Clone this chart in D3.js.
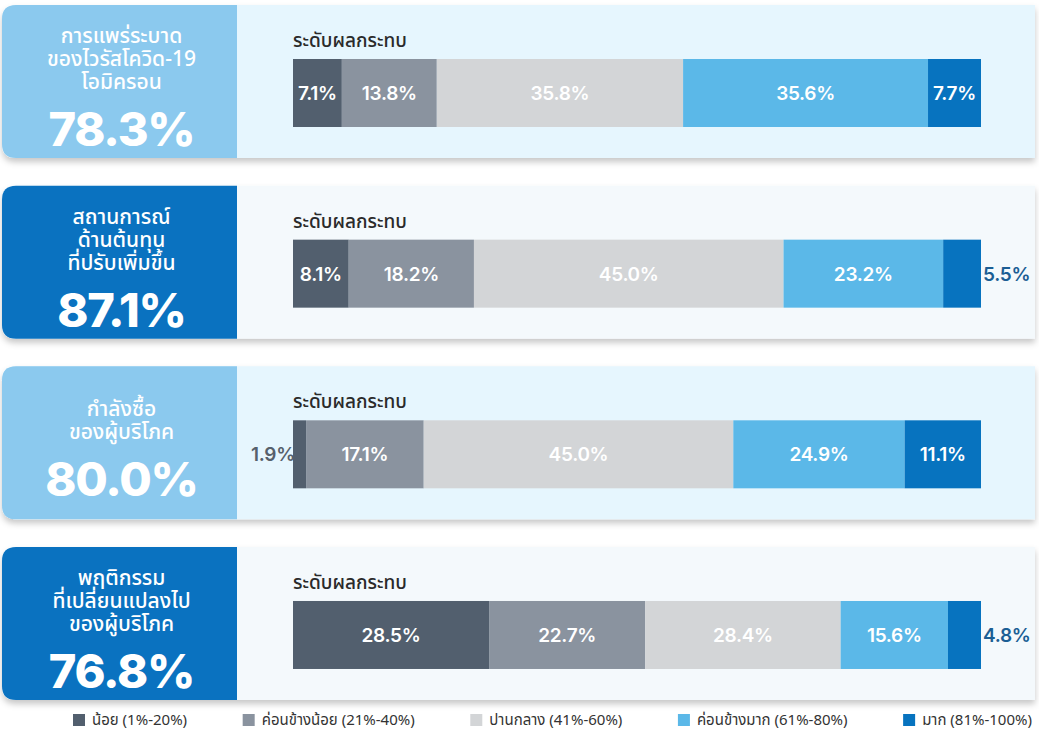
<!DOCTYPE html>
<html><head><meta charset="utf-8">
<script src="https://cdn.jsdelivr.net/npm/d3@7"></script>
<style>
html,body{margin:0;padding:0;background:#fff;}
svg{display:block;}
.th{font-family:"Noto Sans Thai","Noto Sans","Open Sans",sans-serif;}
.num{font-family:Inter,"Noto Sans",sans-serif;}
</style></head>
<body><svg id="chart" width="1039" height="732"></svg>
<script>
// ---- data ----
const rowTitles = [
  ["การแพร่ระบาด","ของไวรัสโควิด-19","โอมิครอน"],
  ["สถานการณ์","ด้านต้นทุน","ที่ปรับเพิ่มขึ้น"],
  ["กำลังซื้อ","ของผู้บริโภค"],
  ["พฤติกรรม","ที่เปลี่ยนแปลงไป","ของผู้บริโภค"]
];
const rowTotals = [78.3, 87.1, 80.0, 76.8];
const levelNames = ["น้อย (1%-20%)","ค่อนข้างน้อย (21%-40%)","ปานกลาง (41%-60%)","ค่อนข้างมาก (61%-80%)","มาก (81%-100%)"];
const lowVals        = [7.1, 8.1, 1.9, 28.5];
const fairlyLowVals  = [13.8, 18.2, 17.1, 22.7];
const mediumVals     = [35.8, 45.0, 45.0, 28.4];
const fairlyHighVals = [35.6, 23.2, 24.9, 15.6];
const highVals       = [7.7, 5.5, 11.1, 4.8];
const barTitle = "ระดับผลกระทบ";

// ---- styles ----
const levelColors = ["#525f6e","#8a939f","#d3d5d7","#5bb8e8","#0773bf"];
const boxColors = ["#8bc9ee","#0a72c0"];
const panelColors = ["#e6f6fe","#f4f9fc"];

const svg = d3.select("#chart");
const defs = svg.append("defs");
const f = defs.append("filter").attr("id","sh").attr("x","-5%").attr("y","-10%").attr("width","110%").attr("height","130%");
f.append("feDropShadow").attr("dx",0).attr("dy",4).attr("stdDeviation",3).attr("flood-color","#000").attr("flood-opacity",0.22);

const seriesArrays = [lowVals, fairlyLowVals, mediumVals, fairlyHighVals, highVals];
const table = rowTitles.map((t,i)=>{
  const o = {idx:i};
  seriesArrays.forEach((arr,k)=>o["k"+k]=arr[i]);
  return o;
});
const keys = levelNames.map((d,k)=>"k"+k);
const stacked = d3.stack().keys(keys)(table);

const y = d3.scaleBand().domain(d3.range(rowTitles.length)).range([5,700]).paddingInner(0.153).paddingOuter(0);
const x = d3.scaleLinear().domain([0,100]).range([293,981]);
const panelLeft = 2, panelRight = 1035, boxRight = 237, r = 14;
const barOffset = 54, barH = 68;

function leftRounded(x0,y0,x1,y1,rr){
  return `M${x0+rr},${y0}H${x1}V${y1}H${x0+rr}Q${x0},${y1} ${x0},${y1-rr}V${y0+rr}Q${x0},${y0} ${x0+rr},${y0}Z`;
}

const rows = svg.selectAll("g.row").data(table).join("g").attr("class","row");
rows.append("path")
  .attr("d",d=>leftRounded(panelLeft,y(d.idx),panelRight,y(d.idx)+y.bandwidth(),r))
  .attr("fill",d=>panelColors[d.idx%2]).attr("filter","url(#sh)");
rows.append("path")
  .attr("d",d=>leftRounded(panelLeft,y(d.idx),boxRight,y(d.idx)+y.bandwidth(),r))
  .attr("fill",d=>boxColors[d.idx%2]);

// left box text
const cx = (panelLeft+boxRight)/2 + 2;
rows.each(function(d){
  const g = d3.select(this);
  const lines = rowTitles[d.idx];
  const n = lines.length;
  const lh = 23, gap = 57;
  const h = (n-1)*lh + 15 + gap;
  const top = y(d.idx) + 82 - h/2;
  lines.forEach((ln,j)=>{
    g.append("text").attr("class","th").attr("x",cx).attr("y",top+15+j*lh)
      .attr("text-anchor","middle").attr("fill","#fff").attr("font-size",21).attr("font-weight",500)
      .text(ln);
  });
  g.append("text").attr("class","num").attr("x",cx).attr("y",top+h)
    .attr("text-anchor","middle").attr("fill","#fff").attr("font-size",47).attr("font-weight",800)
    .attr("letter-spacing",-1.2)
    .text(d3.format(".1f")(rowTotals[d.idx])+"%");
  g.append("text").attr("class","th").attr("x",x(0)).attr("y",y(d.idx)+42)
    .attr("fill","#2a2a2a").attr("font-size",19).attr("font-weight",500).text(barTitle);
});

// bars
const layers = svg.selectAll("g.layer").data(stacked).join("g").attr("class","layer")
  .attr("fill",(s,k)=>levelColors[k]);
layers.selectAll("rect").data(s=>s.map(p=>({p,row:p.data.idx}))).join("rect")
  .attr("x",d=>x(d.p[0])).attr("width",d=>x(d.p[1])-x(d.p[0]))
  .attr("y",d=>y(d.row)+barOffset).attr("height",barH);

// value labels
stacked.forEach((s,k)=>{
  s.forEach(p=>{
    const row = p.data.idx;
    const v = p[1]-p[0];
    const w = x(p[1])-x(p[0]);
    let tx = (x(p[0])+x(p[1]))/2, anchor="middle", col="#fff";
    if (w < 45) {
      if (k===0){ tx = x(p[0]) + 2; anchor="end"; col="#56606c"; }
      else { tx = x(p[1]) + 2; anchor="start"; col="#1b5e94"; }
    }
    svg.append("text").attr("class","num").attr("x",tx).attr("y",y(row)+barOffset+barH/2)
      .attr("dy","0.36em").attr("text-anchor",anchor).attr("fill",col)
      .attr("font-size",19).attr("font-weight",600).attr("letter-spacing",-0.3)
      .text(d3.format(".1f")(v)+"%");
  });
});

// legend
const lg = svg.append("g");
const items = lg.selectAll("g").data(levelNames).join("g");
items.append("rect").attr("width",12).attr("height",12).attr("y",714).attr("fill",(d,k)=>levelColors[k]);
items.append("text").attr("class","th").attr("x",19).attr("y",725).attr("font-size",15).attr("fill","#333").text(d=>d);
const widths = items.nodes().map(n=>n.getBBox().width);
const start = 73, end = 1032;
const g2 = (end-start - d3.sum(widths))/(levelNames.length-1);
let cur = start;
items.each(function(d,k){ d3.select(this).attr("transform",`translate(${cur},0)`); cur += widths[k]+g2; });
</script></body></html>
